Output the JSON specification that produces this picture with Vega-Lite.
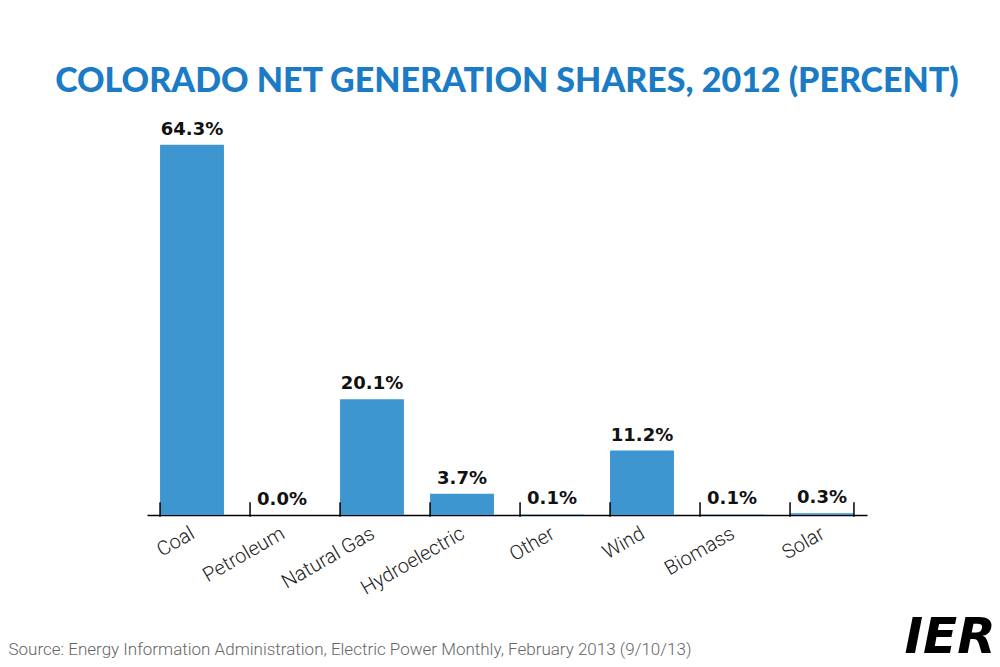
{
  "$schema": "https://vega.github.io/schema/vega-lite/v6.json",
  "autosize": {"type": "none"},
  "width": 720,
  "height": 403,
  "padding": {"left": 147, "top": 112, "right": 133, "bottom": 152},
  "background": "white",
  "title": {
    "text": "COLORADO NET GENERATION SHARES, 2012 (PERCENT)",
    "font": "Lato",
    "fontWeight": 900,
    "fontSize": 34,
    "color": "#1b7bc4",
    "anchor": "middle",
    "baseline": "bottom",
    "offset": -21
  },
  "config": {"view": {"stroke": null}},
  "data": {
    "values": [
      {"source": "Coal", "share": 64.3, "label": "64.3%"},
      {"source": "Petroleum", "share": 0.0, "label": "0.0%"},
      {"source": "Natural Gas", "share": 20.1, "label": "20.1%"},
      {"source": "Hydroelectric", "share": 3.7, "label": "3.7%"},
      {"source": "Other", "share": 0.1, "label": "0.1%"},
      {"source": "Wind", "share": 11.2, "label": "11.2%"},
      {"source": "Biomass", "share": 0.1, "label": "0.1%"},
      {"source": "Solar", "share": 0.3, "label": "0.3%"}
    ]
  },
  "encoding": {
    "x": {
      "field": "source",
      "type": "nominal",
      "sort": null,
      "scale": {"paddingInner": 0.29, "paddingOuter": 0.145},
      "axis": {
        "title": "Source: Energy Information Administration, Electric Power Monthly, February 2013 (9/10/13)",
        "titleFont": "Roboto",
        "titleFontWeight": 300,
        "titleFontSize": 17,
        "titleColor": "#666666",
        "titleAnchor": "start",
        "titleAlign": "left",
        "titleBaseline": "alphabetic",
        "titleX": -139,
        "titleY": 139,
        "labelAngle": -30,
        "labelAlign": "right",
        "labelBaseline": "top",
        "labelFont": "Roboto",
        "labelFontWeight": 300,
        "labelFontSize": 20,
        "labelColor": "#222222",
        "labelPadding": 8,
        "labelOffset": -4,
        "ticks": false,
        "domainColor": "#000000",
        "domainWidth": 1.5
      }
    },
    "y": {
      "field": "share",
      "type": "quantitative",
      "scale": {"domain": [0, 70]},
      "axis": {
        "orient": "right",
        "labels": false,
        "ticks": false,
        "domain": false,
        "grid": false,
        "title": "IER",
        "titleAngle": 0,
        "titleFont": "DejaVu Sans",
        "titleFontWeight": "bold",
        "titleFontStyle": "italic",
        "titleFontSize": 50,
        "titleColor": "#000000",
        "titleAlign": "left",
        "titleBaseline": "alphabetic",
        "titleX": 37,
        "titleY": 540
      }
    }
  },
  "layer": [
    {"mark": {"type": "bar", "color": "#3e96d0"}},
    {
      "mark": {"type": "text", "font": "DejaVu Sans", "fontWeight": "bold", "fontSize": 18, "color": "#111111", "baseline": "bottom", "dy": -6},
      "encoding": {"text": {"field": "label"}}
    },
    {
      "mark": {"type": "rule", "color": "#000000", "strokeWidth": 1.5},
      "encoding": {
        "x": {"field": "source", "type": "nominal", "sort": null, "bandPosition": 0},
        "y": {"datum": -0.3},
        "y2": {"datum": 2.2}
      }
    },
    {
      "transform": [{"filter": "datum.source === 'Solar'"}],
      "mark": {"type": "rule", "color": "#000000", "strokeWidth": 1.5},
      "encoding": {
        "x": {"field": "source", "type": "nominal", "sort": null, "bandPosition": 1},
        "y": {"datum": -0.3},
        "y2": {"datum": 2.2}
      }
    }
  ]
}
